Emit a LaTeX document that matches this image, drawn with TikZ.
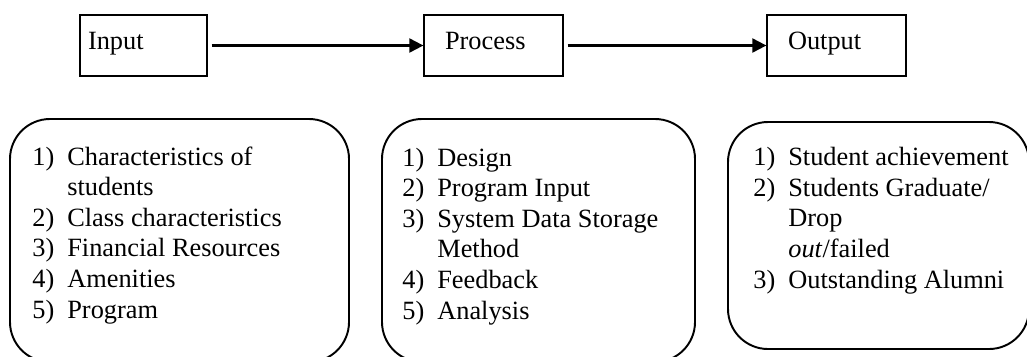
\documentclass[tikz,border=0pt]{standalone}
\usepackage{fontspec}
\setmainfont{Liberation Serif}
\usetikzlibrary{arrows.meta}
\newcommand{\itm}[1]{\makebox[0.7cm][l]{#1)}}
\newcommand{\cont}{\hspace*{0.7cm}}
\begin{document}
\begin{tikzpicture}[x=0.02cm,y=-0.02cm,
    stage/.style={draw, line width=0.75pt, minimum height=1.22cm, align=left,
      text height=10pt, text depth=4.9pt, font=\fontsize{15}{18}\selectfont},
    flow/.style={line width=1.2pt, -{Triangle[length=8pt,width=8pt]}},
    roundbox/.style={line width=1.1pt, rounded corners=0.8cm},
    listtext/.style={align=left, anchor=base west, inner sep=0pt, font=\fontsize{15}{17.4}\selectfont}]
  \useasboundingbox (0,0) rectangle (1027,356);
  \clip (0,0) rectangle (1027,356);
  % top row
  \node[stage, text width=2.22cm, inner xsep=0.16cm] (input) at (143.5,45.5) {Input};
  \node[stage, text width=1.94cm, inner xsep=0.42cm] (process) at (493.5,45.5) {Process};
  \node[stage, text width=1.94cm, inner xsep=0.42cm] (output) at (836.5,45.5) {Output};
  \foreach \a/\b in {input/process, process/output}
    \draw[flow, shorten <=0.08cm] (\a) -- (\b);
  % lists (placed by the baseline of their last line)
  \draw[roundbox] (10,119) rectangle (349,362);
  \draw[roundbox] (382,119) rectangle (695,362);
  \draw[roundbox] (728,122) rectangle (1029,349);
  \node[listtext] (inlist) at (32,318) {\itm{1}Characteristics of\\ \cont students\\ \itm{2}Class characteristics\\ \itm{3}Financial Resources\\ \itm{4}Amenities\\ \itm{5}Program};
  \node[listtext] (proclist) at (402,319) {\itm{1}Design\\ \itm{2}Program Input\\ \itm{3}System Data Storage\\ \cont Method\\ \itm{4}Feedback\\ \itm{5}Analysis};
  \node[listtext] (outlist) at (753,288) {\itm{1}Student achievement\\ \itm{2}Students Graduate/\\ \cont Drop\\ \cont \textit{out}/failed\\ \itm{3}Outstanding Alumni};
\end{tikzpicture}
\end{document}
